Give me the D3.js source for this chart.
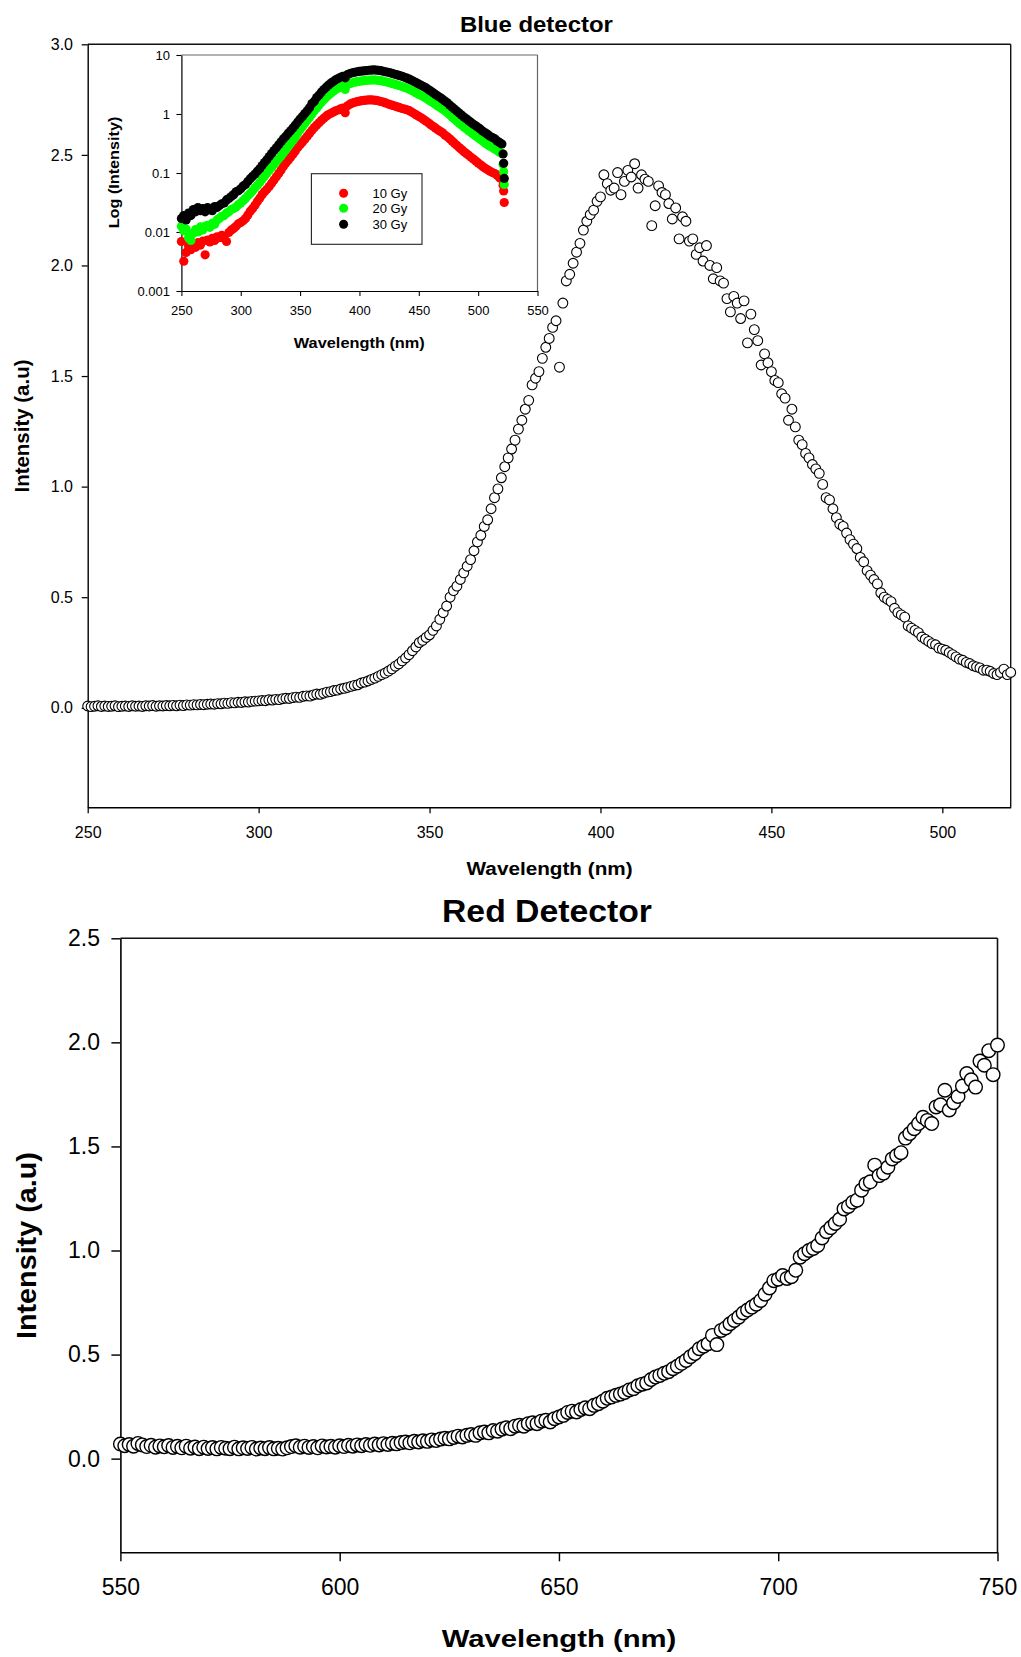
<!DOCTYPE html>
<html><head><meta charset="utf-8">
<script src="https://cdn.jsdelivr.net/npm/d3@7"></script>
<style>
html,body{margin:0;padding:0;background:#fff;}
svg{display:block;}
</style></head><body>
<svg id="chart" width="1021" height="1657"></svg>
<script>
// ---------------- DATA ----------------
const FONT = '"Liberation Sans", Arial, Helvetica, sans-serif';

// Blue detector main spectrum: 250..520 nm, 1 nm steps
const blueStart = 250, blueStep = 1;
const blueIntensity = [
0.008,0.005,0.007,0.009,0.006,0.008,0.006,0.007,0.009,0.005,
0.007,0.008,0.006,0.009,0.007,0.008,0.006,0.009,0.008,0.010,
0.007,0.009,0.008,0.010,0.009,0.011,0.009,0.012,0.010,0.013,
0.012,0.014,0.013,0.015,0.014,0.016,0.017,0.016,0.019,0.018,
0.021,0.020,0.023,0.022,0.025,0.024,0.027,0.026,0.029,0.030,
0.031,0.033,0.032,0.036,0.035,0.038,0.037,0.041,0.043,0.042,
0.046,0.048,0.047,0.052,0.054,0.053,0.058,0.062,0.061,0.066,
0.071,0.073,0.078,0.080,0.085,0.088,0.092,0.097,0.101,0.104,
0.112,0.116,0.121,0.128,0.134,0.142,0.150,0.157,0.166,0.176,
0.188,0.198,0.212,0.225,0.240,0.258,0.275,0.295,0.305,0.318,
0.330,0.350,0.370,0.400,0.430,0.460,0.500,0.530,0.550,0.580,
0.610,0.640,0.670,0.710,0.750,0.780,0.820,0.850,0.900,0.950,
0.990,1.040,1.090,1.130,1.170,1.210,1.260,1.300,1.350,1.390,
1.460,1.490,1.520,1.580,1.630,1.670,1.720,1.750,1.540,1.830,
1.930,1.960,2.010,2.060,2.100,2.160,2.200,2.230,2.250,2.290,
2.310,2.410,2.370,2.340,2.350,2.420,2.320,2.380,2.430,2.400,
2.460,2.350,2.410,2.390,2.380,2.180,2.270,2.360,2.330,2.320,
2.280,2.210,2.260,2.120,2.220,2.200,2.110,2.120,2.050,2.080,
2.020,2.090,2.000,1.940,1.990,1.930,1.920,1.850,1.790,1.860,
1.830,1.760,1.840,1.650,1.780,1.710,1.660,1.550,1.600,1.560,
1.520,1.480,1.470,1.420,1.400,1.300,1.350,1.270,1.210,1.190,
1.150,1.130,1.100,1.080,1.060,1.010,0.950,0.940,0.900,0.860,
0.830,0.820,0.790,0.760,0.740,0.720,0.680,0.660,0.620,0.600,
0.580,0.560,0.520,0.500,0.490,0.480,0.450,0.430,0.420,0.410,
0.370,0.360,0.350,0.340,0.320,0.310,0.300,0.290,0.285,0.270,
0.265,0.260,0.250,0.240,0.230,0.220,0.215,0.205,0.200,0.190,
0.185,0.180,0.170,0.170,0.165,0.155,0.150,0.160,0.175,0.150,
0.160
];
const blueXTicks = [250,300,350,400,450,500];
const blueYTicks = [0,0.5,1,1.5,2,2.5,3];

// Inset (log intensity): 250..520 nm in 2 nm steps, plus the final drop near 521-522 nm
const insetStart = 250, insetStep = 2;
const insetTailNm = [521, 521.5, 522];
const gy10 = [
0.0069,0.0032,0.0045,0.0058,0.0050,0.0062,0.0055,0.0066,0.0060,0.0070,
0.0041,0.0073,0.0068,0.0078,0.0072,0.0083,0.0080,0.0088,0.0078,0.0069,
0.0098,0.0108,0.0115,0.0125,0.0138,0.0145,0.0155,0.0170,0.0195,0.0225,
0.025,0.0285,0.033,0.0375,0.043,0.048,0.053,0.059,0.067,0.076,
0.086,0.098,0.112,0.130,0.148,0.165,0.185,0.208,0.235,0.270,
0.30,0.335,0.375,0.42,0.47,0.53,0.59,0.65,0.71,0.78,
0.85,0.92,0.98,1.03,1.08,1.13,1.17,1.22,1.26,1.05,
1.38,1.47,1.53,1.58,1.62,1.65,1.68,1.70,1.72,1.73,
1.73,1.72,1.70,1.67,1.63,1.59,1.54,1.49,1.44,1.40,
1.36,1.32,1.28,1.24,1.21,1.18,1.14,1.08,1.02,0.96,
0.91,0.86,0.81,0.76,0.71,0.66,0.62,0.58,0.54,0.51,
0.48,0.44,0.41,0.38,0.35,0.32,0.295,0.27,0.25,0.23,
0.215,0.20,0.185,0.172,0.16,0.148,0.138,0.128,0.12,0.113,
0.107,0.102,0.098,0.092,0.083,0.079
];
const gy10Tail = [0.062, 0.0495, 0.0316];
const gy20 = [
0.0125,0.0105,0.0112,0.0080,0.0072,0.0095,0.0110,0.0100,0.0122,0.0108,
0.0125,0.0130,0.0120,0.0140,0.0135,0.0160,0.0170,0.0185,0.0190,0.0210,
0.0220,0.0240,0.0250,0.0265,0.0290,0.0310,0.0340,0.0370,0.0410,0.0450,
0.050,0.056,0.062,0.069,0.078,0.088,0.099,0.111,0.125,0.140,
0.156,0.174,0.195,0.220,0.248,0.280,0.315,0.355,0.405,0.475,
0.54,0.61,0.69,0.78,0.88,1.00,1.13,1.27,1.42,1.58,
1.75,1.93,2.10,2.27,2.43,2.59,2.74,2.88,2.95,2.60,
3.15,3.28,3.38,3.46,3.53,3.58,3.63,3.68,3.72,3.75,
3.77,3.78,3.76,3.72,3.67,3.60,3.52,3.45,3.36,3.27,
3.18,3.10,3.01,2.92,2.82,2.73,2.62,2.50,2.38,2.26,
2.15,2.05,1.96,1.86,1.75,1.65,1.55,1.46,1.37,1.29,
1.21,1.13,1.05,0.97,0.89,0.82,0.76,0.70,0.65,0.60,
0.56,0.52,0.485,0.455,0.425,0.395,0.37,0.345,0.32,0.30,
0.285,0.27,0.255,0.24,0.225,0.215
];
const gy20Tail = [0.14, 0.105, 0.064];
const gy30 = [
0.017,0.019,0.016,0.021,0.019,0.024,0.022,0.026,0.023,0.025,
0.022,0.026,0.024,0.023,0.027,0.026,0.028,0.030,0.031,0.035,
0.037,0.040,0.043,0.048,0.050,0.054,0.060,0.064,0.072,0.080,
0.088,0.096,0.107,0.118,0.134,0.150,0.168,0.190,0.214,0.240,
0.268,0.300,0.338,0.380,0.420,0.470,0.520,0.580,0.650,0.730,
0.820,0.910,1.02,1.14,1.28,1.50,1.65,1.90,2.10,2.35,
2.60,2.85,3.10,3.35,3.55,3.80,4.00,4.20,4.35,4.10,
4.65,4.85,5.00,5.10,5.20,5.28,5.35,5.40,5.45,5.52,
5.56,5.58,5.55,5.50,5.42,5.30,5.20,5.10,4.98,4.85,
4.72,4.60,4.47,4.35,4.20,4.05,3.90,3.72,3.55,3.38,
3.22,3.07,2.92,2.78,2.60,2.45,2.30,2.15,2.02,1.90,
1.78,1.66,1.55,1.42,1.31,1.21,1.12,1.04,0.96,0.89,
0.83,0.77,0.72,0.67,0.63,0.59,0.55,0.51,0.48,0.45,
0.42,0.40,0.38,0.35,0.33,0.31
];
const gy30Tail = [0.21, 0.146, 0.081];
const insetLabels = ["10 Gy","20 Gy","30 Gy"];
const insetColors = ["#ff0000","#00ff00","#000000"];
const insetXTicks = [250,300,350,400,450,500,550];
const insetYTicks = [0.001,0.01,0.1,1,10];
const insetYTickLabels = ["0.001","0.01","0.1","1","10"];

// Red detector spectrum: 550..750 nm, 1 nm steps
const redStart = 550, redStep = 1;
const redIntensity = [
0.070,0.062,0.068,0.060,0.073,0.066,0.058,0.064,0.055,0.061,
0.057,0.063,0.054,0.059,0.052,0.060,0.050,0.056,0.048,0.055,
0.049,0.053,0.047,0.054,0.050,0.048,0.055,0.047,0.052,0.049,
0.054,0.046,0.051,0.048,0.053,0.047,0.050,0.046,0.052,0.058,
0.062,0.055,0.060,0.054,0.058,0.052,0.061,0.056,0.059,0.055,
0.062,0.058,0.064,0.060,0.066,0.062,0.068,0.064,0.070,0.066,
0.072,0.068,0.074,0.071,0.077,0.080,0.076,0.083,0.080,0.086,
0.083,0.090,0.087,0.094,0.098,0.095,0.102,0.108,0.104,0.112,
0.116,0.112,0.124,0.128,0.124,0.135,0.132,0.142,0.148,0.144,
0.156,0.160,0.156,0.168,0.172,0.168,0.180,0.184,0.176,0.192,
0.200,0.208,0.222,0.228,0.224,0.236,0.244,0.240,0.256,0.264,
0.276,0.290,0.296,0.304,0.310,0.318,0.330,0.336,0.350,0.358,
0.364,0.380,0.392,0.400,0.410,0.418,0.432,0.444,0.458,0.472,
0.490,0.505,0.528,0.540,0.552,0.592,0.548,0.616,0.628,0.648,
0.664,0.680,0.700,0.714,0.728,0.742,0.760,0.790,0.820,0.855,
0.862,0.880,0.866,0.874,0.905,0.968,0.985,1.000,1.010,1.024,
1.060,1.090,1.110,1.130,1.150,1.200,1.212,1.232,1.242,1.290,
1.320,1.330,1.410,1.360,1.372,1.400,1.440,1.456,1.470,1.540,
1.562,1.585,1.610,1.640,1.625,1.610,1.690,1.700,1.770,1.675,
1.710,1.740,1.790,1.850,1.820,1.785,1.910,1.890,1.960,1.845,
1.987
];
const redXTicks = [550,600,650,700,750];
const redYTicks = [0,0.5,1,1.5,2,2.5];

// ---------------- DRAW ----------------
const svg = d3.select("#chart").attr("font-family", FONT);

function styleAxis(g, fs, w) {
  g.attr("font-family", FONT).attr("font-size", fs);
  g.selectAll("path.domain").attr("stroke", "#000").attr("stroke-width", w);
  g.selectAll(".tick line").attr("stroke", "#000").attr("stroke-width", w * 0.9);
  g.selectAll(".tick text").attr("fill", "#000");
}
function label(parent, txt, x, y, fs, len, rot) {
  const t = parent.append("text")
    .attr("font-family", FONT).attr("font-weight", "bold").attr("font-size", fs)
    .attr("text-anchor", "middle").attr("fill", "#000")
    .attr("textLength", len).attr("lengthAdjust", "spacingAndGlyphs")
    .text(txt);
  if (rot) t.attr("transform", `translate(${x},${y}) rotate(-90)`);
  else t.attr("x", x).attr("y", y);
  return t;
}
function frame(parent, x0, x1, y0, y1, color, w) {
  parent.append("line").attr("x1", x0).attr("x2", x1).attr("y1", y0).attr("y2", y0)
    .attr("stroke", color).attr("stroke-width", w);
  parent.append("line").attr("x1", x1).attr("x2", x1).attr("y1", y0).attr("y2", y1)
    .attr("stroke", color).attr("stroke-width", w);
}

// ===== Blue detector =====
const blueData = blueIntensity.map((v, i) => ({x: blueStart + i * blueStep, y: v}));
const bx = d3.scaleLinear().domain([250, 520]).range([87.7, 1010.7]);
const by = d3.scaleLinear().domain([-0.45, 3.0]).range([807.3, 44.3]);
const blue = svg.append("g");

frame(blue, bx.range()[0], bx.range()[1], by.range()[1], by.range()[0], "#111", 1.4);

blue.append("g").attr("transform", `translate(0,${by.range()[0]})`)
  .call(d3.axisBottom(bx).tickValues(blueXTicks).tickFormat(d3.format("d"))
    .tickSize(6).tickSizeOuter(0).tickPadding(13.5))
  .call(g => styleAxis(g, 16, 1.4));
blue.append("g").attr("transform", `translate(${bx.range()[0]},0)`)
  .call(d3.axisLeft(by).tickValues(blueYTicks).tickFormat(d3.format(".1f"))
    .tickSize(6).tickSizeOuter(0).tickPadding(8.7))
  .call(g => styleAxis(g, 16, 1.4));

blue.append("g").selectAll("circle").data(blueData).join("circle")
  .attr("cx", d => bx(d.x)).attr("cy", d => by(d.y)).attr("r", 4.9)
  .attr("fill", "#fff").attr("stroke", "#000").attr("stroke-width", 1.1);

label(blue, "Blue detector", 536.4, 32.3, 22, 153, false);
label(blue, "Wavelength (nm)", 549.6, 874.5, 18, 166, false);
label(blue, "Intensity (a.u)", 28.5, 426, 20, 133, true);

// ===== Inset =====
const ix = d3.scaleLinear().domain([250, 550]).range([181.4, 537.5]);
const iy = d3.scaleLog().domain([0.001, 10]).range([291, 55]);
const inset = svg.append("g");
inset.append("rect").attr("x", ix.range()[0]).attr("y", iy.range()[1])
  .attr("width", ix.range()[1] - ix.range()[0]).attr("height", iy.range()[0] - iy.range()[1])
  .attr("fill", "#fff");
frame(inset, ix.range()[0], ix.range()[1], iy.range()[1], iy.range()[0], "#666", 1.2);

inset.append("g").attr("transform", `translate(0,${iy.range()[0]})`)
  .call(d3.axisBottom(ix).tickValues(insetXTicks).tickFormat(d3.format("d"))
    .tickSize(5).tickSizeOuter(0).tickPadding(9.8))
  .call(g => styleAxis(g, 13, 1.2));
inset.append("g").attr("transform", `translate(${ix.range()[0]},0)`)
  .call(d3.axisLeft(iy).tickValues(insetYTicks).tickFormat((d, i) => insetYTickLabels[i])
    .tickSize(5).tickSizeOuter(0).tickPadding(6.4))
  .call(g => styleAxis(g, 13, 1.2));

const insetSeries = [[gy10, gy10Tail], [gy20, gy20Tail], [gy30, gy30Tail]];
insetSeries.forEach(([vals, tail], k) => {
  const pts = vals.map((v, i) => ({x: insetStart + i * insetStep, y: v}))
    .concat(tail.map((v, i) => ({x: insetTailNm[i], y: v})));
  inset.append("g").selectAll("circle").data(pts).join("circle")
    .attr("cx", d => ix(d.x)).attr("cy", d => iy(d.y)).attr("r", 4.6)
    .attr("fill", insetColors[k]);
});

// legend
const leg = inset.append("g");
leg.append("rect").attr("x", 311.4).attr("y", 173.7).attr("width", 110.6).attr("height", 70.6)
  .attr("fill", "#fff").attr("stroke", "#222").attr("stroke-width", 1.1);
const legY = [193.3, 208.3, 224.3];
insetLabels.forEach((lab, k) => {
  leg.append("circle").attr("cx", 343.6).attr("cy", legY[k]).attr("r", 4.5).attr("fill", insetColors[k]);
  leg.append("text").attr("x", 372.5).attr("y", legY[k] + 4.6)
    .attr("font-family", FONT).attr("font-size", 13).attr("fill", "#000").text(lab);
});

label(inset, "Wavelength (nm)", 359.3, 347.7, 15, 131, false);
label(inset, "Log (Intensity)", 119, 172.5, 15, 111.6, true);

// ===== Red detector =====
const redData = redIntensity.map((v, i) => ({x: redStart + i * redStep, y: v}));
const rx = d3.scaleLinear().domain([550, 750]).range([120.4, 997.5]);
const ry = d3.scaleLinear().domain([-0.45, 2.5]).range([1552.3, 938.3]);
const red = svg.append("g");

frame(red, rx.range()[0], rx.range()[1], ry.range()[1], ry.range()[0], "#111", 1.6);

red.append("g").attr("transform", `translate(0,${ry.range()[0]})`)
  .call(d3.axisBottom(rx).tickValues(redXTicks).tickFormat(d3.format("d"))
    .tickSize(9).tickSizeOuter(0).tickPadding(17))
  .call(g => styleAxis(g, 23, 1.6));
red.append("g").attr("transform", `translate(${rx.range()[0]},0)`)
  .call(d3.axisLeft(ry).tickValues(redYTicks).tickFormat(d3.format(".1f"))
    .tickSize(9).tickSizeOuter(0).tickPadding(11.4))
  .call(g => styleAxis(g, 23, 1.6));

red.append("g").selectAll("circle").data(redData).join("circle")
  .attr("cx", d => rx(d.x)).attr("cy", d => ry(d.y)).attr("r", 6.8)
  .attr("fill", "#fff").attr("stroke", "#000").attr("stroke-width", 1.4);

label(red, "Red Detector", 547, 921.7, 31, 210, false);
label(red, "Wavelength (nm)", 559, 1646.5, 24, 234.6, false);
label(red, "Intensity (a.u)", 36.4, 1245.6, 28, 187, true);
</script>
</body></html>
